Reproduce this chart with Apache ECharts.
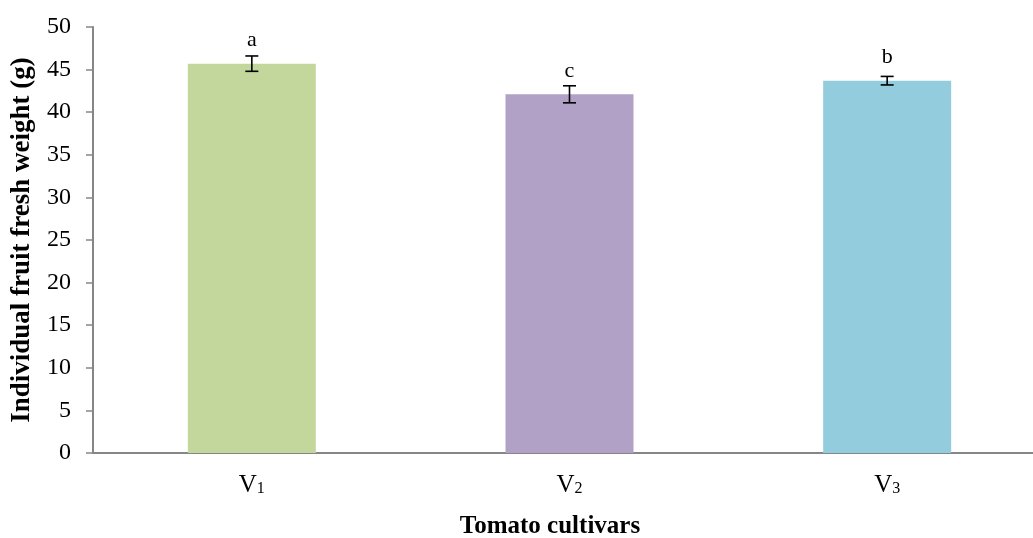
<!DOCTYPE html>
<html>
<head>
<meta charset="utf-8">
<script src="https://cdn.jsdelivr.net/npm/echarts@6/dist/echarts.min.js"></script>
<style>
  html, body { margin: 0; padding: 0; background: #fff; }
  #chart { width: 1033px; height: 538px; }
</style>
</head>
<body>
<div id="chart"></div>
<script>
// Cultivars, mean fruit weight, standard error and significance letters
const cultivars = ['V1', 'V2', 'V3'];
const meanWeight = [45.7, 42.1, 43.7];
const stdError = [0.9, 1.0, 0.5];
const sigLetters = ['a', 'c', 'b'];
const barColors = ['#C3D69B', '#B2A1C7', '#93CDDD'];
const yTicks = { min: 0, max: 50, interval: 5 };

const serif = '"Liberation Serif", "Times New Roman", serif';
const axisGray = '#868686';

const chart = echarts.init(document.getElementById('chart'));

chart.setOption({
  animation: false,
  backgroundColor: '#ffffff',
  grid: { left: 93, top: 27, width: 953, height: 426, outerBoundsMode: 'none', containLabel: false },
  xAxis: {
    type: 'category',
    data: cultivars,
    axisTick: { show: false },
    axisLine: { show: true, lineStyle: { color: axisGray, width: 2 } },
    axisLabel: {
      margin: 20,
      formatter: v => '{v|V}{n|' + v.slice(1) + '}',
      rich: {
        v: { fontFamily: serif, fontSize: 25, color: '#000', verticalAlign: 'bottom' },
        n: { fontFamily: serif, fontSize: 16, color: '#000', verticalAlign: 'bottom', padding: [0, 0, 1, 0] }
      }
    }
  },
  yAxis: {
    type: 'value',
    min: yTicks.min,
    max: yTicks.max,
    interval: yTicks.interval,
    splitLine: { show: false },
    axisLine: { show: true, lineStyle: { color: axisGray, width: 2 } },
    axisTick: { show: true, length: 7, lineStyle: { color: axisGray, width: 1.5 } },
    axisLabel: { margin: 22, fontFamily: serif, fontSize: 24, color: '#000' },
    name: 'Individual fruit fresh weight (g)',
    nameLocation: 'middle',
    nameGap: 57,
    nameTextStyle: { fontFamily: serif, fontSize: 27, fontWeight: 'bold', color: '#000' }
  },
  graphic: [{
    type: 'text',
    x: 550,
    y: 527,
    style: {
      text: 'Tomato cultivars',
      font: 'bold 25px ' + serif,
      fill: '#000',
      textAlign: 'center',
      textVerticalAlign: 'middle'
    }
  }],
  series: [
    {
      type: 'bar',
      barWidth: 128,
      data: meanWeight.map((v, i) => ({ value: v, itemStyle: { color: barColors[i] } })),
      label: {
        show: true,
        position: 'top',
        distance: 12,
        formatter: p => sigLetters[p.dataIndex],
        fontFamily: serif,
        fontSize: 22,
        color: '#000'
      }
    },
    {
      type: 'custom',
      data: meanWeight.map((v, i) => [i, v - stdError[i], v + stdError[i]]),
      renderItem: (params, api) => {
        const lo = api.coord([api.value(0), api.value(1)]);
        const hi = api.coord([api.value(0), api.value(2)]);
        const half = 6.5;
        const style = { stroke: '#000', lineWidth: 1.6 };
        return {
          type: 'group',
          children: [
            { type: 'line', shape: { x1: hi[0], y1: hi[1], x2: lo[0], y2: lo[1] }, style },
            { type: 'line', shape: { x1: hi[0] - half, y1: hi[1], x2: hi[0] + half, y2: hi[1] }, style },
            { type: 'line', shape: { x1: lo[0] - half, y1: lo[1], x2: lo[0] + half, y2: lo[1] }, style }
          ]
        };
      },
      z: 5
    }
  ]
});
</script>
</body>
</html>
